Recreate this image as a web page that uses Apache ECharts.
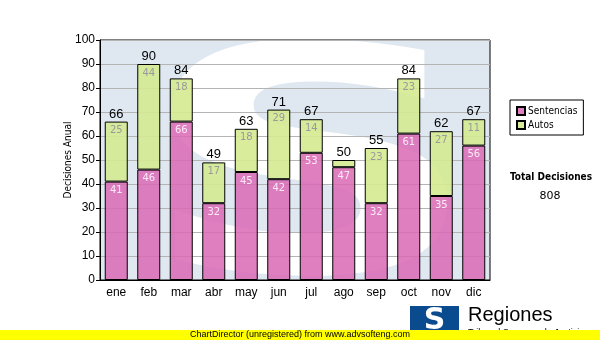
<!DOCTYPE html>
<html>
<head>
<meta charset="utf-8">
<script src="https://cdn.jsdelivr.net/npm/echarts@6/dist/echarts.min.js"></script>
<style>html,body{margin:0;padding:0;background:#fff}#c{width:600px;height:340px}</style>
</head>
<body>
<div id="c"></div>
<script>
const months = ['ene','feb','mar','abr','may','jun','jul','ago','sep','oct','nov','dic'];
const sentencias = [41,46,66,32,45,42,53,47,32,61,35,56];
const autos = [25,44,18,17,18,29,14,3,23,23,27,11];
const totalDecisiones = 808;

const totals = sentencias.map((v,i)=>v+autos[i]);
const chart = echarts.init(document.getElementById('c'), null, {renderer:'canvas'});
const axisFont = 'Liberation Sans, Arial, sans-serif';
const verd = 'DejaVu Sans, Verdana, sans-serif';
const cond = '"DejaVu Sans Condensed", "DejaVu Sans", sans-serif';
chart.setOption({
  animation:false,
  backgroundColor:'#ffffff',
  grid:{left:100,right:110,top:40,bottom:60,show:true,backgroundColor:'transparent',borderColor:'#000',borderWidth:1},
  graphic:[
    {type:'rect',z:-20,shape:{x:100,y:40,width:390,height:240},style:{fill:'#dfe8f1'},silent:true},
    {type:'text',z:-19,x:310,y:190,scaleX:1.45,scaleY:0.95,silent:true,
     style:{text:'S',fill:'#ffffff',font:'bold 330px "DejaVu Sans", sans-serif',align:'center',verticalAlign:'middle'}},
    {type:'text',z:10,x:510,y:172,style:{text:'Total Decisiones',font:'bold 10px '+cond,fill:'#000'}},
    {type:'text',z:10,x:550,y:191,style:{text:String(totalDecisiones),font:'11px '+verd,fill:'#000',align:'center'}},
    {type:'rect',z:10,shape:{x:410,y:306,width:49,height:30},style:{fill:'#0a4b8f'}},
    {type:'text',z:11,x:434.5,y:321,style:{text:'S',font:'bold 30px "DejaVu Sans", sans-serif',fill:'#fff',align:'center',verticalAlign:'middle'}},
    {type:'text',z:10,x:468,y:305,style:{text:'Regiones',font:'20px '+axisFont,fill:'#000'}},
    {type:'text',z:10,x:468,y:328,style:{text:'Tribunal Supremo de Justicia',font:'9px '+axisFont,fill:'#000'}},
    {type:'rect',z:20,shape:{x:0,y:330,width:600,height:10},style:{fill:'#ffff00'}},
    {type:'text',z:21,x:300,y:335,style:{text:'ChartDirector (unregistered) from www.advsofteng.com',font:'9px '+axisFont,fill:'#000',align:'center',verticalAlign:'middle'}}
  ],
  legend:{
    data:['Sentencias','Autos'],orient:'vertical',left:510,top:100,
    backgroundColor:'#fff',borderColor:'#000',borderWidth:1,padding:[6,6,5,6],
    itemWidth:8,itemHeight:8,itemGap:4,
    textStyle:{fontSize:10,fontFamily:cond,color:'#000',padding:[0,0,0,-2]},
    icon:'rect'
  },
  xAxis:{
    type:'category',data:months,
    axisLine:{lineStyle:{color:'#000',width:1}},
    axisTick:{alignWithLabel:true,length:4,lineStyle:{color:'#000'}},
    axisLabel:{color:'#000',fontSize:12,fontFamily:axisFont,margin:7}
  },
  yAxis:{
    type:'value',min:0,max:100,interval:10,
    name:'Decisiones Anual',nameLocation:'middle',nameGap:27,nameMoveOverlap:false,
    nameTextStyle:{fontSize:10,fontFamily:cond,color:'#000'},
    axisLine:{show:true,lineStyle:{color:'#000'}},
    axisTick:{show:true,length:4,lineStyle:{color:'#000'}},
    axisLabel:{color:'#000',fontSize:12,fontFamily:axisFont,margin:5},
    splitLine:{lineStyle:{color:'#b4b4b4',width:1}}
  },
  series:[
    {name:'Sentencias',type:'bar',stack:'a',barWidth:23,data:sentencias,
     itemStyle:{color:'rgba(218,104,181,0.85)',borderColor:'#000',borderWidth:1},
     label:{show:true,position:'insideTop',distance:4,fontSize:10,fontFamily:verd,color:'#fbe9f6'}},
    {name:'Autos',type:'bar',stack:'a',barWidth:23,data:autos,
     itemStyle:{color:'rgba(212,234,145,0.9)',borderColor:'#000',borderWidth:1},
     label:{show:true,position:'insideTop',distance:4,fontSize:10,fontFamily:verd,color:'#9a9a9a',
       formatter:p=>p.value>=5?p.value:''}},
    {name:'Total',type:'bar',stack:'a',barWidth:23,data:totals.map(()=>0),
     itemStyle:{color:'transparent',borderWidth:0},
     label:{show:true,position:'top',distance:1,fontSize:13,fontFamily:axisFont,color:'#000',
       formatter:p=>totals[p.dataIndex]}}
  ]
});
</script>
</body>
</html>
